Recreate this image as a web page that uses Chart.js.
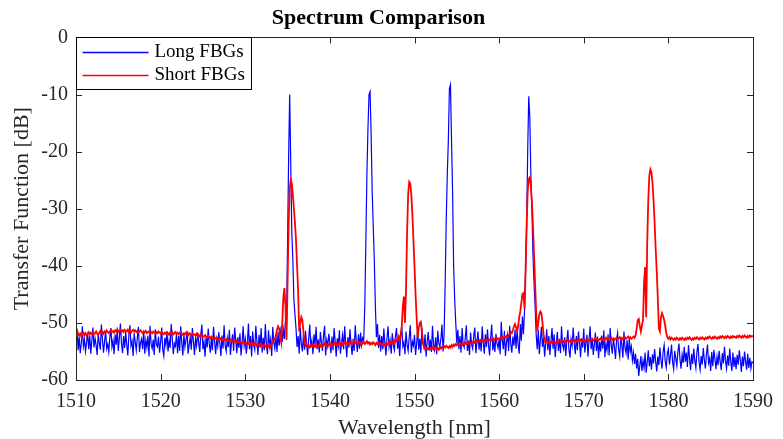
<!DOCTYPE html>
<html>
<head>
<meta charset="utf-8">
<script src="https://cdn.jsdelivr.net/npm/chart.js@4.4.0/dist/chart.umd.min.js"></script>
<style>
  body { margin: 0; background: #fff; }
  #wrap { width: 783px; height: 439px; }
</style>
</head>
<body>
<div id="wrap"><canvas id="spectrumChart"></canvas></div>
<script>
// sampling grid of the spectrum (nm)
var startNm = 1510;
var stepNm = 0.125;

// Long FBGs, transfer function [dB], one row = 2 nm
var longFbg = [
  -53.2, -51.0, -54.8, -52.4, -55.3, -53.6, -50.6, -54.1, -52.9, -55.0, -53.4, -51.7, -54.6, -52.2, -55.4, -53.0,
  -50.8, -54.3, -52.7, -53.9, -55.6, -51.9, -53.5, -54.7, -50.3, -52.8, -55.2, -53.3, -51.4, -54.5, -53.7, -55.1,
  -52.5, -50.9, -54.2, -53.1, -55.5, -52.0, -53.8, -51.2, -54.9, -52.6, -50.1, -53.6, -55.3, -52.3, -54.4, -51.6,
  -53.9, -55.7, -52.1, -50.4, -54.0, -53.2, -55.8, -51.8, -53.4, -54.8, -52.5, -50.7, -55.1, -53.5, -52.8, -54.6,
  -51.3, -55.4, -53.0, -54.3, -52.2, -55.9, -50.5, -53.7, -54.5, -52.9, -55.6, -51.1, -53.8, -54.2, -52.4, -55.2,
  -53.3, -50.8, -54.7, -55.8, -52.6, -53.9, -51.5, -55.0, -53.1, -54.4, -50.2, -52.7, -55.5, -53.6, -54.1, -51.9,
  -55.3, -52.3, -54.9, -50.6, -53.5, -55.7, -52.0, -54.2, -53.0, -51.4, -55.4, -53.8, -52.5, -54.7, -50.9, -53.2,
  -55.6, -52.8, -54.0, -51.7, -53.4, -55.1, -52.1, -50.3, -54.6, -53.3, -55.9, -52.4, -54.3, -51.0, -53.7, -55.2,
  -52.6, -54.8, -50.7, -53.1, -55.5, -52.9, -54.1, -51.6, -53.6, -55.8, -52.2, -54.5, -50.4, -53.9, -55.0, -52.7,
  -54.2, -51.2, -55.6, -53.4, -52.0, -54.9, -50.8, -53.0, -55.3, -52.5, -54.4, -51.8, -55.7, -53.5, -50.6, -54.0,
  -52.8, -55.4, -53.6, -50.1, -54.6, -52.3, -55.9, -51.5, -53.8, -54.7, -50.5, -53.2, -55.6, -52.1, -54.3, -50.9,
  -55.2, -52.6, -54.8, -50.2, -53.7, -55.5, -51.3, -54.1, -52.9, -55.8, -50.7, -53.4, -54.5, -52.0, -55.1, -51.6,
  -54.0, -52.4, -50.6, -53.3, -51.2, -52.8, -49.5, -50.5, -36.0, -21.0, -10.0, -22.0, -34.0, -39.0, -46.0, -48.5,
  -51.0, -54.2, -52.3, -55.4, -50.8, -53.6, -55.0, -52.1, -54.7, -51.4, -53.9, -55.6, -52.6, -50.3, -54.3, -53.1,
  -55.5, -52.0, -53.8, -50.7, -54.6, -52.9, -55.2, -51.6, -53.4, -54.9, -52.2, -50.5, -55.7, -53.0, -54.1, -51.9,
  -53.6, -55.3, -52.4, -54.8, -50.9, -53.2, -55.9, -52.7, -54.0, -51.3, -55.4, -53.5, -52.1, -54.6, -50.6, -53.8,
  -56.0, -52.5, -54.3, -51.1, -53.7, -55.6, -52.8, -54.9, -50.4, -53.3, -55.1, -52.0, -54.5, -51.7, -53.9, -52.6,
  -53.0, -47.0, -36.0, -24.0, -16.0, -10.0, -9.5, -17.0, -27.0, -33.0, -39.0, -47.0, -52.5, -50.2, -54.4, -52.1,
  -55.0, -52.3, -54.6, -51.0, -53.5, -55.7, -52.7, -50.6, -54.2, -53.1, -55.4, -51.8, -53.9, -54.8, -52.4, -50.9,
  -54.5, -53.0, -55.8, -52.2, -50.7, -54.1, -53.4, -55.5, -51.5, -53.8, -54.9, -52.6, -50.4, -55.2, -53.3, -54.0,
  -52.1, -55.6, -53.7, -51.2, -54.7, -52.8, -55.3, -50.8, -53.6, -54.4, -52.0, -55.9, -53.2, -51.6, -54.6, -52.9,
  -55.1, -50.5, -53.9, -54.8, -52.5, -55.5, -51.4, -53.5, -54.2, -52.7, -50.3, -55.0, -52.0, -43.0, -32.0, -24.0,
  -18.0, -9.0, -8.3, -18.0, -27.0, -40.0, -46.0, -50.0, -53.5, -51.2, -54.6, -52.3, -55.2, -50.9, -53.7, -54.3,
  -52.6, -50.4, -54.9, -53.1, -55.6, -51.7, -53.8, -54.5, -52.2, -50.8, -55.3, -53.4, -51.5, -54.7, -52.9, -55.0,
  -50.6, -53.5, -55.4, -52.0, -54.2, -51.1, -53.9, -55.7, -52.5, -50.3, -54.8, -53.2, -55.1, -51.9, -53.6, -54.4,
  -52.8, -55.5, -49.8, -53.0, -54.6, -51.4, -55.8, -53.3, -52.1, -54.9, -50.5, -53.7, -55.2, -52.4, -54.0, -51.2,
  -54.5, -51.0, -53.8, -55.4, -50.2, -53.1, -48.9, -52.0, -48.0, -41.0, -33.0, -20.0, -10.3, -14.0, -24.0, -30.0,
  -38.0, -43.0, -47.0, -52.0, -54.6, -51.3, -55.5, -53.0, -50.7, -54.2, -52.6, -55.9, -53.5, -51.1, -54.8, -52.3,
  -55.6, -53.2, -50.9, -54.5, -52.0, -56.0, -53.7, -51.6, -54.9, -52.8, -55.3, -50.6, -53.9, -54.6, -52.5, -55.8,
  -53.1, -51.2, -54.7, -56.1, -52.9, -54.0, -50.8, -53.6, -55.5, -52.3, -54.8, -51.5, -53.4, -56.0, -52.7, -54.3,
  -51.0, -55.2, -53.5, -52.1, -55.9, -53.0, -50.6, -54.6, -52.6, -55.6, -53.8, -51.7, -54.9, -52.4, -56.2, -53.3,
  -55.0, -52.2, -54.5, -51.3, -56.0, -53.6, -54.8, -52.0, -55.7, -50.9, -53.9, -55.4, -52.7, -54.2, -56.3, -53.1,
  -51.8, -54.7, -55.9, -52.5, -53.8, -56.1, -51.5, -54.4, -55.3, -53.0, -56.4, -52.8, -55.0, -54.1, -56.6, -55.2,
  -57.2, -55.4, -58.0, -56.3, -59.3, -57.5, -55.8, -58.4, -56.6, -57.9, -55.2, -58.7, -56.9, -54.8, -57.6, -56.0,
  -58.2, -55.5, -57.1, -54.6, -56.8, -58.5, -55.9, -57.4, -54.3, -56.5, -58.0, -55.1, -53.9, -56.7, -57.8, -55.3,
  -54.6, -57.3, -55.7, -53.8, -56.9, -58.1, -54.9, -56.2, -57.5, -55.0, -53.6, -56.4, -58.0, -55.6, -57.0, -54.2,
  -56.8, -55.2, -57.7, -53.9, -56.1, -58.3, -55.4, -57.2, -54.5, -56.6, -57.9, -55.0, -53.7, -56.9, -58.2, -55.8,
  -57.3, -54.4, -56.5, -58.0, -55.5, -53.8, -57.0, -56.2, -58.4, -55.1, -57.6, -54.7, -56.3, -58.1, -55.9, -57.4,
  -54.9, -56.8, -58.3, -55.3, -57.1, -54.2, -56.6, -58.0, -55.7, -57.5, -54.5, -56.9, -58.4, -55.2, -57.7, -56.0,
  -58.1, -55.6, -57.3, -54.8, -56.4, -58.6, -55.9, -57.6, -55.0, -56.7, -58.2, -55.4, -57.9, -56.1, -58.0, -56.8,
  -57.0
];

// Short FBGs, transfer function [dB], one row = 2 nm
var shortFbg = [
  -52.0, -52.3, -51.8, -52.2, -51.9, -52.4, -52.0, -51.7, -52.1, -51.8, -52.3, -51.9, -51.6, -52.0, -51.7, -51.9,
  -51.6, -52.0, -51.8, -51.5, -51.9, -52.1, -51.7, -51.4, -51.8, -51.6, -51.9, -51.5, -51.7, -51.3, -51.6, -51.8,
  -51.5, -51.2, -51.6, -51.4, -51.7, -51.3, -51.5, -51.1, -51.6, -51.4, -51.2, -51.5, -51.3, -51.6, -51.2, -51.4,
  -51.5, -51.2, -51.6, -51.3, -51.7, -51.4, -51.2, -51.5, -51.3, -51.6, -51.4, -51.7, -51.5, -51.3, -51.6, -51.8,
  -51.5, -51.7, -51.4, -51.8, -51.6, -51.5, -51.9, -51.6, -51.8, -51.5, -51.7, -51.9, -51.6, -51.8, -51.5, -51.7,
  -51.9, -51.6, -51.8, -52.0, -51.7, -51.9, -51.6, -51.8, -52.1, -51.7, -51.9, -51.6, -52.0, -51.8, -51.6, -51.9,
  -51.7, -52.0, -51.8, -51.6, -51.9, -52.1, -51.8, -52.0, -51.7, -51.9, -52.2, -51.8, -52.0, -52.3, -51.9, -52.1,
  -52.0, -52.2, -51.9, -52.3, -52.1, -52.4, -52.0, -52.2, -52.5, -52.3, -52.1, -52.4, -52.6, -52.3, -52.5, -52.7,
  -52.4, -52.6, -52.8, -52.5, -52.7, -52.9, -52.6, -52.8, -53.0, -52.7, -52.9, -53.1, -52.8, -53.0, -52.9, -53.2,
  -53.0, -53.2, -52.9, -53.1, -53.3, -53.0, -53.2, -53.4, -53.1, -53.3, -53.5, -53.2, -53.4, -53.6, -53.3, -53.5,
  -53.4, -53.6, -53.3, -53.7, -53.5, -53.8, -53.4, -53.6, -53.9, -53.5, -53.7, -54.0, -53.6, -53.8, -54.1, -53.7,
  -53.9, -54.2, -53.8, -54.0, -54.3, -53.9, -54.1, -53.8, -54.2, -53.7, -53.4, -52.8, -53.0, -52.2, -51.2, -50.6,
  -51.0, -52.4, -53.4, -50.0, -45.5, -43.9, -47.0, -53.0, -43.0, -33.0, -26.5, -25.0, -25.6, -27.5, -30.0, -32.5,
  -35.5, -40.0, -44.5, -51.5, -50.0, -49.0, -49.5, -51.5, -53.5, -54.0, -53.7, -54.2, -53.9, -54.3, -54.0, -53.8,
  -54.1, -53.8, -54.2, -53.9, -54.3, -54.0, -53.7, -54.1, -53.8, -54.2, -53.9, -53.6, -54.0, -53.7, -54.1, -53.8,
  -53.6, -54.0, -53.7, -53.9, -53.5, -53.8, -53.6, -54.0, -53.7, -53.4, -53.8, -53.5, -53.9, -53.6, -53.3, -53.7,
  -53.5, -53.8, -53.4, -53.6, -53.3, -53.7, -53.5, -53.2, -53.6, -53.4, -53.7, -53.3, -53.5, -53.8, -53.4, -53.6,
  -53.3, -53.7, -53.5, -53.2, -53.6, -53.4, -53.8, -53.5, -53.7, -53.4, -53.6, -53.9, -53.5, -53.7, -53.4, -53.8,
  -53.6, -53.9, -53.7, -54.0, -53.8, -53.5, -53.9, -53.6, -53.4, -53.7, -53.3, -53.5, -53.1, -53.4, -52.8, -53.2,
  -53.0, -52.4, -53.1, -52.0, -50.5, -47.0, -45.4, -50.0, -44.0, -34.0, -27.5, -25.3, -25.6, -27.5, -31.0, -35.5,
  -40.0, -45.0, -49.0, -52.5, -51.0, -50.0, -49.8, -51.5, -53.5, -54.2, -54.5, -54.3, -54.6, -54.4, -54.7, -54.5,
  -54.6, -54.3, -54.7, -54.5, -54.2, -54.6, -54.4, -54.7, -54.3, -54.5, -54.2, -54.4, -54.1, -54.3, -54.0, -54.2,
  -54.4, -54.1, -54.3, -53.9, -54.2, -53.8, -54.0, -53.7, -53.9, -53.6, -53.8, -53.5, -53.7, -53.9, -53.6, -53.8,
  -53.5, -53.7, -53.4, -53.6, -53.3, -53.5, -53.7, -53.4, -53.2, -53.5, -53.3, -53.1, -53.4, -53.2, -53.0, -53.3,
  -53.1, -53.3, -53.0, -53.2, -52.9, -53.1, -52.8, -53.0, -53.2, -52.9, -52.7, -53.0, -52.8, -52.6, -52.9, -52.7,
  -52.8, -52.6, -52.9, -52.5, -52.7, -52.4, -52.6, -52.3, -52.5, -52.2, -52.0, -51.6, -51.8, -51.3, -50.6, -50.2,
  -50.8, -51.5, -50.5, -49.0, -48.0, -46.5, -45.0, -44.8, -47.5, -41.0, -33.0, -27.0, -24.8, -24.5, -26.0, -29.0,
  -33.0, -38.0, -43.0, -48.0, -51.5, -50.0, -48.5, -48.0, -48.3, -50.0, -52.0, -53.0, -53.4, -53.2, -53.5, -53.3,
  -53.6, -53.3, -53.5, -53.2, -53.4, -53.6, -53.3, -53.1, -53.4, -53.2, -53.5, -53.3, -53.0, -53.3, -53.1, -53.4,
  -53.2, -53.0, -53.3, -53.1, -53.4, -53.2, -52.9, -53.2, -53.0, -53.3, -53.1, -52.9, -53.2, -53.0, -53.3, -53.1,
  -52.9, -53.2, -53.0, -52.8, -53.1, -52.9, -53.2, -53.0, -52.8, -53.1, -52.9, -52.7, -53.0, -52.8, -53.1, -52.9,
  -52.7, -53.0, -52.8, -53.1, -52.9, -52.6, -52.9, -52.7, -53.0, -52.8, -52.6, -52.9, -52.7, -53.0, -52.8, -52.6,
  -52.9, -52.7, -52.5, -52.8, -52.6, -52.9, -52.7, -52.5, -52.8, -52.6, -52.4, -52.7, -52.5, -52.8, -52.6, -52.4,
  -52.6, -52.2, -51.0, -49.5, -49.3, -50.5, -51.5, -50.5, -49.5, -43.0, -40.2, -49.0, -36.0, -28.5, -24.2, -23.1,
  -23.6, -25.5, -28.5, -32.5, -37.0, -41.0, -45.5, -51.0, -51.5, -49.0, -48.3, -48.8, -49.5, -50.5, -51.8, -52.5,
  -52.8, -52.5, -52.9, -52.6, -52.8, -53.0, -52.7, -52.9, -52.6, -52.8, -53.0, -52.7, -52.9, -52.6, -52.8, -53.0,
  -52.7, -52.9, -52.6, -52.8, -52.5, -52.8, -53.0, -52.7, -52.9, -52.6, -52.8, -52.5, -52.7, -52.9, -52.6, -52.8,
  -52.5, -52.7, -52.9, -52.6, -52.8, -52.5, -52.7, -52.4, -52.6, -52.8, -52.5, -52.7, -52.4, -52.6, -52.8, -52.5,
  -52.7, -52.4, -52.6, -52.3, -52.5, -52.7, -52.4, -52.6, -52.3, -52.5, -52.7, -52.4, -52.6, -52.3, -52.5, -52.4,
  -52.6, -52.3, -52.5, -52.2, -52.4, -52.6, -52.3, -52.5, -52.2, -52.4, -52.6, -52.3, -52.5, -52.2, -52.4, -52.3,
  -52.4
];

var seriesNames = ['Long FBGs', 'Short FBGs'];
var seriesColors = ['#0000ff', '#ff0000'];
var xTicks = [1510, 1520, 1530, 1540, 1550, 1560, 1570, 1580, 1590];
var yTicks = [-60, -50, -40, -30, -20, -10, 0];

function toPoints(values) {
  return values.map(function (v, i) {
    return { x: startNm + i * stepNm, y: v };
  });
}

var serif = "'Liberation Serif', 'Times New Roman', serif";
var axisColor = '#262626';

// MATLAB-like box with inward ticks + legend in the upper left corner
var matlabBox = {
  id: 'matlabBox',
  afterDatasetsDraw: function (chart) {
    var ctx = chart.ctx;
    var a = chart.chartArea;
    var xs = chart.scales.x, ys = chart.scales.y;
    var tl = 6;
    ctx.save();
    ctx.strokeStyle = axisColor;
    ctx.lineWidth = 1;
    ctx.beginPath();
    xTicks.forEach(function (t) {
      var px = Math.round(xs.getPixelForValue(t)) + 0.5;
      ctx.moveTo(px, a.bottom); ctx.lineTo(px, a.bottom - tl);
      ctx.moveTo(px, a.top); ctx.lineTo(px, a.top + tl);
    });
    yTicks.forEach(function (t) {
      var py = Math.round(ys.getPixelForValue(t)) + 0.5;
      ctx.moveTo(a.left, py); ctx.lineTo(a.left + tl, py);
      ctx.moveTo(a.right, py); ctx.lineTo(a.right - tl, py);
    });
    ctx.stroke();
    ctx.strokeRect(Math.round(a.left) + 0.5, Math.round(a.top) + 0.5,
      Math.round(a.right - a.left), Math.round(a.bottom - a.top));

    // legend
    var lx = Math.round(a.left) + 0.5, ly = Math.round(a.top) + 0.5;
    ctx.fillStyle = '#fff';
    ctx.fillRect(lx, ly, 175, 52);
    ctx.strokeStyle = '#000';
    ctx.strokeRect(lx, ly, 175, 52);
    ctx.font = '19px ' + serif;
    ctx.textBaseline = 'middle';
    chart.data.datasets.forEach(function (ds, i) {
      var yy = ly + 15 + i * 23;
      ctx.strokeStyle = ds.borderColor;
      ctx.lineWidth = 1.5;
      ctx.beginPath();
      ctx.moveTo(lx + 6, yy); ctx.lineTo(lx + 72, yy);
      ctx.stroke();
      ctx.fillStyle = '#000';
      ctx.fillText(ds.label, lx + 78, yy);
    });
    ctx.restore();
  }
};

var chart = new Chart(document.getElementById('spectrumChart'), {
  type: 'line',
  data: {
    datasets: [{
      label: seriesNames[0],
      data: toPoints(longFbg),
      borderColor: seriesColors[0],
      borderWidth: 1.2,
      pointRadius: 0,
      tension: 0,
      order: 2
    }, {
      label: seriesNames[1],
      data: toPoints(shortFbg),
      borderColor: seriesColors[1],
      borderWidth: 1.8,
      pointRadius: 0,
      tension: 0,
      order: 1
    }]
  },
  options: {
    responsive: true,
    maintainAspectRatio: false,
    animation: false,
    devicePixelRatio: 1,
    layout: { padding: { left: 0, right: 26, top: 0, bottom: 0 } },
    plugins: {
      legend: { display: false },
      tooltip: { enabled: false },
      title: {
        display: true,
        text: 'Spectrum Comparison',
        color: '#000',
        font: { family: serif, size: 22, weight: 'bold', lineHeight: 1.2 },
        padding: { top: 5, bottom: 6 }
      }
    },
    scales: {
      x: {
        type: 'linear',
        min: 1510,
        max: 1590,
        afterBuildTicks: function (scale) {
          scale.ticks = xTicks.map(function (v) { return { value: v }; });
        },
        afterFit: function (scale) { scale.height = 59; },
        grid: { display: false, drawTicks: false },
        border: { display: false },
        ticks: {
          color: axisColor,
          padding: 10,
          maxRotation: 0,
          font: { family: serif, size: 20 },
          callback: function (v) { return String(v); }
        },
        title: {
          display: true,
          text: 'Wavelength [nm]',
          color: axisColor,
          font: { family: serif, size: 22, lineHeight: 1 },
          padding: { top: 0, bottom: 0 }
        }
      },
      y: {
        min: -60,
        max: 0,
        afterBuildTicks: function (scale) {
          scale.ticks = yTicks.map(function (v) { return { value: v }; });
        },
        afterFit: function (scale) { scale.width = 76; },
        grid: { display: false, drawTicks: false },
        border: { display: false },
        ticks: {
          color: axisColor,
          padding: 8,
          font: { family: serif, size: 20 },
          callback: function (v) { return String(v); }
        },
        title: {
          display: true,
          text: 'Transfer Function [dB]',
          color: axisColor,
          font: { family: serif, size: 22, lineHeight: 1.2 },
          padding: { top: 9, bottom: 0 }
        }
      }
    }
  },
  plugins: [matlabBox]
});
</script>
</body>
</html>
